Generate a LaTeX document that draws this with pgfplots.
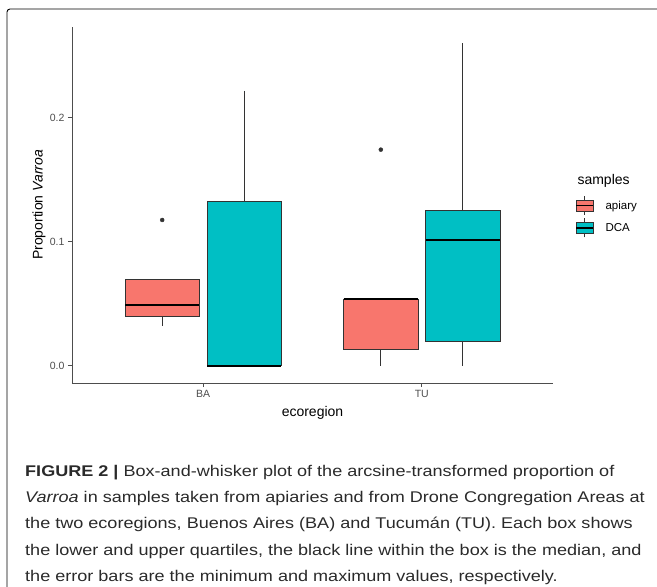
\documentclass[border=0pt]{standalone}
\usepackage{pgfplots}
\pgfplotsset{compat=1.18}
\usepgfplotslibrary{statistics}
\usetikzlibrary{calc}
\usepackage{fontspec}
\setmainfont{Liberation Sans}
\newfontfamily\capfont[FakeStretch=1.165]{Liberation Sans}
\definecolor{apiary}{HTML}{F8766D}
\definecolor{dca}{HTML}{00BFC4}
\definecolor{grey20}{HTML}{333333}
\definecolor{grey30}{HTML}{4D4D4D}
\definecolor{captext}{HTML}{2A2A2A}

\begin{document}
\begin{tikzpicture}
\begin{axis}[
  name=ax, anchor=south west,
  scale only axis, width=481pt, height=356pt,
  xmin=0.4, xmax=2.6, ymin=-0.01395, ymax=0.2731,
  axis x line*=bottom, axis y line*=left,
  axis line style={grey30, line width=0.9pt, -},
  xtick={1,2}, xticklabels={BA,TU},
  ytick={0,0.1,0.2}, yticklabels={0.0,0.1,0.2},
  tick align=outside, major tick length=4pt,
  tick style={grey30, line width=0.8pt},
  ticklabel style={font=\fontsize{10.5}{12}\selectfont, text=grey30},
  xlabel={ecoregion}, ylabel={Proportion \textit{Varroa}},
  every axis x label/.style={at={(axis description cs:0.5,-0.0843)}, anchor=center, font=\fontsize{14}{16}\selectfont},
  every axis y label/.style={at={(axis description cs:-0.0686,0.5)}, anchor=center, rotate=90, font=\fontsize{14}{16}\selectfont},
  boxplot/draw direction=y,
  boxplot/every median/.style={draw=black, line width=2pt},
  boxplot/every whisker/.style={draw=grey20, line width=0.8pt},
  boxplot/every box/.style={draw=grey20, line width=0.8pt},
]
% BA apiary
\addplot[boxplot prepared={draw position=0.8125, lower whisker=0.032, lower quartile=0.040, median=0.049, upper quartile=0.0697, upper whisker=0.0697, box extend=0.34, whisker extend=0}, fill=apiary, draw=grey20, solid, mark=*, mark size=2pt, mark options={fill=grey20, draw=grey20}]
  table[row sep=\\, y index=0] {data\\ 0.1175\\};
% BA DCA
\addplot[boxplot prepared={draw position=1.1875, lower whisker=0, lower quartile=0, median=0, upper quartile=0.1326, upper whisker=0.2218, box extend=0.34, whisker extend=0}, fill=dca, draw=grey20, solid]
  coordinates {};
% TU apiary
\addplot[boxplot prepared={draw position=1.8125, lower whisker=0, lower quartile=0.0132, median=0.0535, upper quartile=0.0535, upper whisker=0.0535, box extend=0.34, whisker extend=0}, fill=apiary, draw=grey20, solid, mark=*, mark size=2pt, mark options={fill=grey20, draw=grey20}]
  table[row sep=\\, y index=0] {data\\ 0.1742\\};
% TU DCA
\addplot[boxplot prepared={draw position=2.1875, lower whisker=0, lower quartile=0.0194, median=0.1016, upper quartile=0.1253, upper whisker=0.260, box extend=0.34, whisker extend=0}, fill=dca, draw=grey20, solid]
  coordinates {};
\end{axis}

\begin{scope}[x=1pt, y=1pt, shift={($(ax.south west)+(-72pt,-204pt)$)}]
% frame
\draw[black, line width=0.9pt, rounded corners=3pt] (7,-10) -- (7,578) -- (680,578);
% legend
\node[anchor=base west, font=\fontsize{14}{16}\selectfont, text=black] at (574,402) {samples};
\draw[grey20, line width=0.7pt] (584.5,372) -- (584.5,391);
\draw[grey20, line width=0.8pt, fill=apiary] (576,376) rectangle (593,387);
\draw[black, line width=1.2pt] (576,381.5) -- (593,381.5);
\draw[grey20, line width=0.7pt] (584.5,349.5) -- (584.5,368.5);
\draw[grey20, line width=0.8pt, fill=dca] (576,353.5) rectangle (593,364.5);
\draw[black, line width=1.2pt] (576,359) -- (593,359);
\node[anchor=base west, font=\fontsize{11.5}{13}\selectfont, text=black] at (602,377.5) {apiary};
\node[anchor=base west, font=\fontsize{11.5}{13}\selectfont, text=black] at (602,355) {DCA};
% caption
\begin{scope}[every node/.style={anchor=base west, inner sep=0pt, font=\capfont\fontsize{15.5}{18}\selectfont, text=captext}]
\node at (25,111) {\textbf{FIGURE 2 |} Box-and-whisker plot of the arcsine-transformed proportion of};
\node at (25,84.7) {\textit{Varroa} in samples taken from apiaries and from Drone Congregation Areas at};
\node at (25,58.4) {the two ecoregions, Buenos Aires (BA) and Tucumán (TU). Each box shows};
\node at (25,32) {the lower and upper quartiles, the black line within the box is the median, and};
\node at (25,5.7) {the error bars are the minimum and maximum values, respectively.};
\end{scope}
\pgfresetboundingbox
\path[use as bounding box] (0,0) rectangle (657,587);
\end{scope}
\end{tikzpicture}
\end{document}
